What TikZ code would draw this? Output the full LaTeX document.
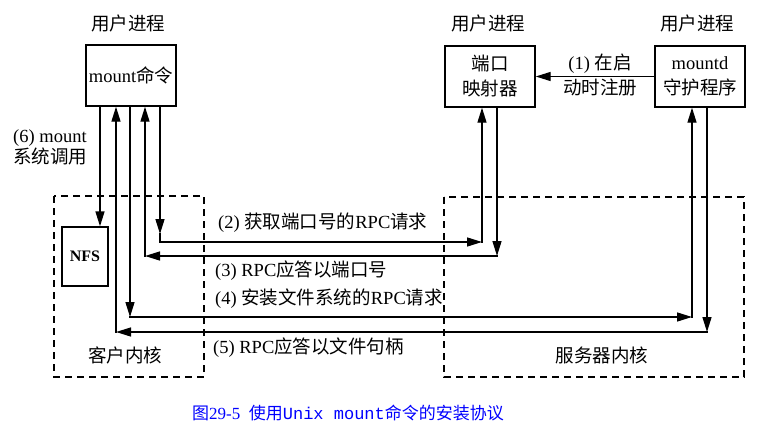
\documentclass[tikz,border=0pt]{standalone}
\usepackage{fontspec}
\setmainfont{Liberation Serif}
\setmonofont{Liberation Mono}
\newfontfamily\cjk{Noto Sans CJK SC}
\newcommand{\zh}[1]{{\cjk #1}}
\usetikzlibrary{arrows.meta}
\begin{document}
\begin{tikzpicture}[x=1pt,y=-1pt,
  font=\fontsize{18.5}{21}\selectfont,
  box/.style={draw, line width=1.4pt, minimum width=90pt, minimum height=61pt, inner sep=0pt, align=center, font=\fontsize{18.5}{25}\selectfont},
  kern/.style={draw, line width=1.2pt, dash pattern=on 7pt off 5pt},
  conn/.style={line width=1.4pt, line cap=rect},
  arr/.style={conn, -{Triangle[length=15pt,width=9pt]}},
  lbl/.style={inner sep=0pt}]
\useasboundingbox[fill=white] (0,0) rectangle (784,434);
% kernels
\draw[kern] (54,196) rectangle (204,377);
\draw[kern] (444,197) rectangle (744,377);
% boxes
\node[box] (mount) at (131,75.5) {mount\zh{命令}};
\node[box] (pm) at (490,76.5) {\zh{端口}\\\zh{映射器}};
\node[box] (md) at (700,76.5) {mountd\\\zh{守护程序}};
\node[draw, line width=1.3pt, minimum width=46pt, minimum height=59pt, inner sep=0pt, font=\bfseries\fontsize{16}{18}\selectfont] (nfs) at (85,256.5) {NFS};
% titles
\node[lbl] (t1) at (128,23) {\zh{用户进程}};
\node[lbl] (t2) at (488,23) {\zh{用户进程}};
\node[lbl] (t3) at (697,23) {\zh{用户进程}};
% corner coordinates
\coordinate (c6) at (100,227);
\coordinate (c2a) at (160,234);
\coordinate (c2) at (160,242);
\coordinate (c2e) at (482,242);
\coordinate (c3) at (497,256);
\coordinate (c3e) at (145,256);
\coordinate (c4) at (130,317);
\coordinate (c4e) at (692,317);
\coordinate (c5) at (707,332);
\coordinate (c5e) at (116,332);
% (1)
\draw[arr] (md.west) -- (pm.east);
% (6)
\draw[arr] (mount.south -| c6) -- (c6 |- nfs.north);
% (2)
\draw[arr] (mount.south -| c2a) -- (c2a);
\draw[conn] (c2a) -- (c2);
\draw[arr] (c2) -- (c2e);
\draw[arr] (c2e) -- (c2e |- pm.south);
% (3)
\draw[arr] (pm.south -| c3) -- (c3);
\draw[arr] (c3) -- (c3e);
\draw[arr] (c3e) -- (c3e |- mount.south);
% (4)
\draw[arr] (mount.south -| c4) -- (c4);
\draw[arr] (c4) -- (c4e);
\draw[arr] (c4e) -- (c4e |- md.south);
% (5)
\draw[arr] (md.south -| c5) -- (c5);
\draw[arr] (c5) -- (c5e);
\draw[arr] (c5e) -- (c5e |- mount.south);
% labels
\node[lbl, align=center, font=\fontsize{18.5}{25}\selectfont] (l1) at (600,75.5) {(1) \zh{在启}\\\zh{动时注册}};
\node[lbl, align=left, anchor=west] (l6) at (13,147.5) {(6) mount\\\zh{系统调用}};
\node[lbl, anchor=west] (l2) at (218,223) {(2) \zh{获取端口号的}RPC\zh{请求}};
\node[lbl, anchor=west] (l3) at (215,271) {(3) RPC\zh{应答以端口号}};
\node[lbl, anchor=west] (l4) at (215,299) {(4) \zh{安装文件系统的}RPC\zh{请求}};
\node[lbl, anchor=west] (l5) at (213,348) {(5) RPC\zh{应答以文件句柄}};
\node[lbl] (k1) at (125,355) {\zh{客户内核}};
\node[lbl] (k2) at (602,355) {\zh{服务器内核}};
\node[lbl, anchor=west, text=blue, font=\fontsize{17}{20}\selectfont] (cap) at (192,413) {\zh{图}29-5\ \ \zh{使用}\texttt{Unix mount}\zh{命令的安装协议}};
\end{tikzpicture}
\end{document}
